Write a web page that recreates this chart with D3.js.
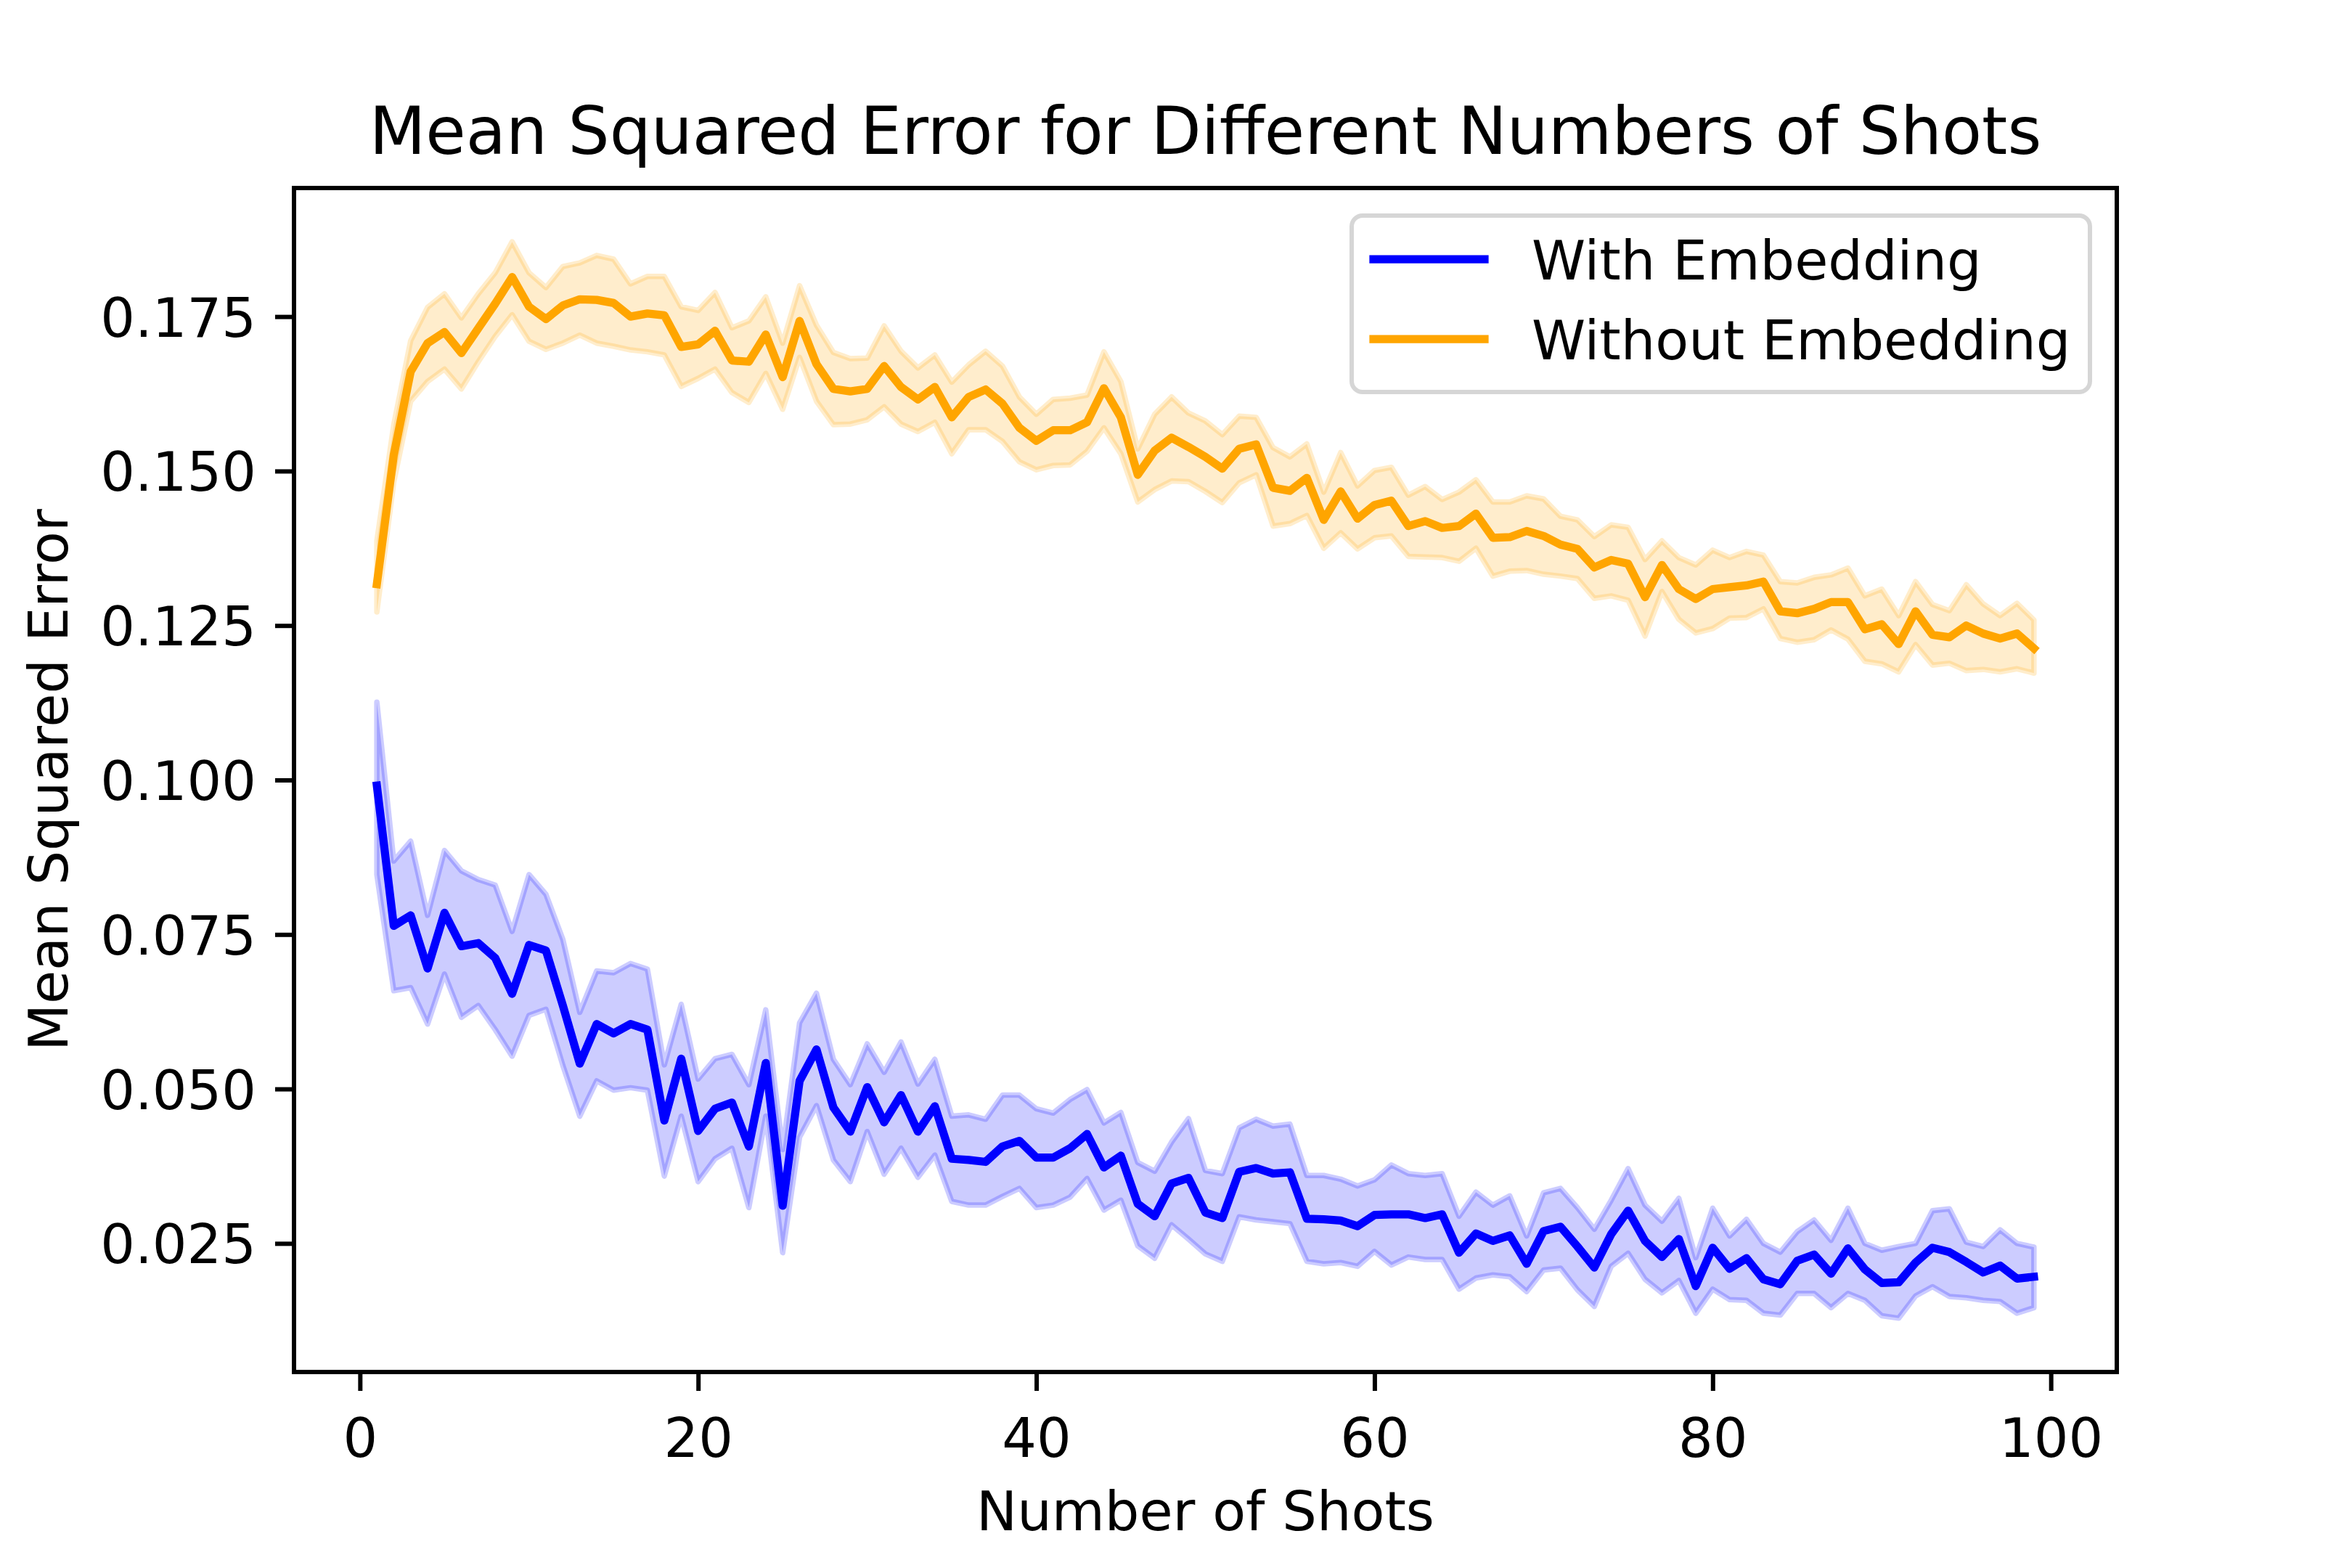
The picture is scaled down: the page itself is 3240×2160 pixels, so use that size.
<!DOCTYPE html>
<html>
<head>
<meta charset="utf-8">
<title>Mean Squared Error for Different Numbers of Shots</title>
<script src="https://cdn.jsdelivr.net/npm/d3@7"></script>
<style>
    body { margin: 0; background: #fff; }
    svg { display: block; }
    text { font-family: "DejaVu Sans", sans-serif; fill: #000; }
</style>
</head>
<body>
<div id="chart"></div>
<script>
"use strict";

// Number of shots (x values)
var shots = [1, 2, 3, 4, 5, 6, 7, 8, 9, 10, 11, 12, 13, 14, 15, 16, 17, 18, 19, 20,
    21, 22, 23, 24, 25, 26, 27, 28, 29, 30, 31, 32, 33, 34, 35, 36, 37, 38, 39, 40,
    41, 42, 43, 44, 45, 46, 47, 48, 49, 50, 51, 52, 53, 54, 55, 56, 57, 58, 59, 60,
    61, 62, 63, 64, 65, 66, 67, 68, 69, 70, 71, 72, 73, 74, 75, 76, 77, 78, 79, 80,
    81, 82, 83, 84, 85, 86, 87, 88, 89, 90, 91, 92, 93, 94, 95, 96, 97, 98, 99];

// With Embedding: mean and band
var withMean = [0.0991, 0.0764, 0.0781, 0.0695, 0.0785, 0.0731, 0.0736, 0.0712, 0.0654, 0.0733,
    0.0724, 0.0635, 0.0541, 0.0605, 0.0590, 0.0605, 0.0596, 0.0449, 0.0549, 0.0432,
    0.0468, 0.0478, 0.0407, 0.0542, 0.0311, 0.0513, 0.0564, 0.0470, 0.0431, 0.0503,
    0.0446, 0.0490, 0.0431, 0.0472, 0.0387, 0.0385, 0.0382, 0.0407, 0.0416, 0.0389,
    0.0389, 0.0404, 0.0427, 0.0373, 0.0392, 0.0314, 0.0294, 0.0347, 0.0356, 0.0300,
    0.0291, 0.0366, 0.0372, 0.0363, 0.0365, 0.0290, 0.0289, 0.0287, 0.0278, 0.0296,
    0.0297, 0.0297, 0.0291, 0.0297, 0.0235, 0.0266, 0.0254, 0.0263, 0.0217, 0.0270,
    0.0277, 0.0245, 0.0211, 0.0265, 0.0303, 0.0254, 0.0228, 0.0257, 0.0181, 0.0243,
    0.0209, 0.0226, 0.0192, 0.0184, 0.0222, 0.0232, 0.0201, 0.0242, 0.0208, 0.0186,
    0.0187, 0.0219, 0.0243, 0.0236, 0.0220, 0.0203, 0.0214, 0.0193, 0.0196];
var withUpper = [0.1126, 0.0869, 0.0901, 0.0781, 0.0886, 0.0853, 0.0839, 0.0830, 0.0755, 0.0847,
    0.0815, 0.0742, 0.0624, 0.0691, 0.0688, 0.0703, 0.0694, 0.0539, 0.0637, 0.0516,
    0.0549, 0.0556, 0.0507, 0.0628, 0.0402, 0.0607, 0.0655, 0.0548, 0.0507, 0.0573,
    0.0527, 0.0576, 0.0508, 0.0548, 0.0456, 0.0458, 0.0451, 0.0490, 0.0490, 0.0468,
    0.0461, 0.0483, 0.0499, 0.0445, 0.0462, 0.0381, 0.0367, 0.0414, 0.0452, 0.0368,
    0.0363, 0.0437, 0.0451, 0.0440, 0.0443, 0.0360, 0.0360, 0.0354, 0.0343, 0.0353,
    0.0377, 0.0363, 0.0360, 0.0363, 0.0294, 0.0333, 0.0312, 0.0327, 0.0262, 0.0332,
    0.0339, 0.0308, 0.0273, 0.0320, 0.0371, 0.0312, 0.0286, 0.0323, 0.0227, 0.0307,
    0.0262, 0.0289, 0.0250, 0.0236, 0.0269, 0.0288, 0.0255, 0.0307, 0.0250, 0.0239,
    0.0245, 0.0250, 0.0303, 0.0306, 0.0252, 0.0245, 0.0272, 0.0250, 0.0244];
var withLower = [0.0847, 0.0659, 0.0664, 0.0605, 0.0686, 0.0616, 0.0635, 0.0596, 0.0553, 0.0619,
    0.0629, 0.0538, 0.0456, 0.0513, 0.0498, 0.0502, 0.0498, 0.0359, 0.0456, 0.0350,
    0.0387, 0.0404, 0.0308, 0.0456, 0.0235, 0.0422, 0.0473, 0.0385, 0.0350, 0.0431,
    0.0362, 0.0404, 0.0357, 0.0393, 0.0318, 0.0312, 0.0312, 0.0326, 0.0339, 0.0308,
    0.0312, 0.0325, 0.0355, 0.0304, 0.0320, 0.0246, 0.0226, 0.0280, 0.0257, 0.0233,
    0.0221, 0.0293, 0.0288, 0.0285, 0.0282, 0.0221, 0.0217, 0.0219, 0.0213, 0.0237,
    0.0215, 0.0228, 0.0224, 0.0224, 0.0176, 0.0194, 0.0199, 0.0196, 0.0172, 0.0207,
    0.0210, 0.0175, 0.0148, 0.0213, 0.0234, 0.0192, 0.0170, 0.0190, 0.0137, 0.0176,
    0.0159, 0.0158, 0.0137, 0.0134, 0.0169, 0.0169, 0.0146, 0.0169, 0.0158, 0.0133,
    0.0129, 0.0165, 0.0180, 0.0164, 0.0162, 0.0158, 0.0156, 0.0137, 0.0146];

// Without Embedding: mean and band
var withoutMean = [0.1317, 0.1526, 0.1661, 0.1707, 0.1725, 0.1691, 0.1731, 0.1771, 0.1814, 0.1766,
    0.1746, 0.1768, 0.1778, 0.1777, 0.1772, 0.1750, 0.1755, 0.1752, 0.1701, 0.1705,
    0.1727, 0.1679, 0.1677, 0.1721, 0.1652, 0.1743, 0.1673, 0.1633, 0.1629, 0.1633,
    0.1670, 0.1636, 0.1616, 0.1636, 0.1587, 0.1620, 0.1632, 0.1609, 0.1570, 0.1549,
    0.1566, 0.1566, 0.1579, 0.1634, 0.1587, 0.1494, 0.1533, 0.1554, 0.1539, 0.1523,
    0.1504, 0.1536, 0.1543, 0.1473, 0.1468, 0.1489, 0.1421, 0.1467, 0.1423, 0.1445,
    0.1452, 0.1411, 0.1419, 0.1408, 0.1411, 0.1431, 0.1392, 0.1393, 0.1403, 0.1395,
    0.1381, 0.1374, 0.1344, 0.1356, 0.1350, 0.1296, 0.1348, 0.1309, 0.1293, 0.1309,
    0.1312, 0.1315, 0.1321, 0.1273, 0.1270, 0.1277, 0.1288, 0.1288, 0.1244, 0.1252,
    0.1220, 0.1273, 0.1235, 0.1231, 0.1250, 0.1237, 0.1229, 0.1237, 0.1213];
var withoutUpper = [0.1387, 0.1575, 0.1711, 0.1765, 0.1787, 0.1748, 0.1787, 0.1821, 0.1871, 0.1821,
    0.1797, 0.1831, 0.1837, 0.1849, 0.1843, 0.1803, 0.1815, 0.1815, 0.1766, 0.1760,
    0.1789, 0.1732, 0.1743, 0.1782, 0.1707, 0.1800, 0.1736, 0.1692, 0.1682, 0.1683,
    0.1735, 0.1694, 0.1667, 0.1688, 0.1644, 0.1672, 0.1694, 0.1670, 0.1620, 0.1592,
    0.1616, 0.1618, 0.1623, 0.1693, 0.1645, 0.1536, 0.1592, 0.1620, 0.1594, 0.1581,
    0.1559, 0.1589, 0.1587, 0.1538, 0.1523, 0.1544, 0.1466, 0.1530, 0.1476, 0.1501,
    0.1506, 0.1461, 0.1475, 0.1454, 0.1466, 0.1486, 0.1450, 0.1450, 0.1460, 0.1455,
    0.1427, 0.1421, 0.1394, 0.1413, 0.1409, 0.1357, 0.1387, 0.1360, 0.1348, 0.1372,
    0.1360, 0.1370, 0.1364, 0.1321, 0.1319, 0.1328, 0.1332, 0.1343, 0.1298, 0.1309,
    0.1266, 0.1321, 0.1284, 0.1274, 0.1316, 0.1285, 0.1266, 0.1286, 0.1259];
var withoutLower = [0.1272, 0.1482, 0.1613, 0.1645, 0.1665, 0.1633, 0.1677, 0.1718, 0.1753, 0.1710,
    0.1697, 0.1707, 0.1720, 0.1707, 0.1702, 0.1696, 0.1693, 0.1688, 0.1637, 0.1650,
    0.1665, 0.1627, 0.1611, 0.1658, 0.1600, 0.1684, 0.1613, 0.1575, 0.1576, 0.1583,
    0.1604, 0.1576, 0.1564, 0.1579, 0.1528, 0.1567, 0.1567, 0.1548, 0.1515, 0.1502,
    0.1509, 0.1510, 0.1532, 0.1570, 0.1528, 0.1450, 0.1470, 0.1484, 0.1483, 0.1467,
    0.1449, 0.1481, 0.1494, 0.1411, 0.1415, 0.1428, 0.1375, 0.1400, 0.1374, 0.1392,
    0.1395, 0.1362, 0.1361, 0.1360, 0.1354, 0.1375, 0.1330, 0.1338, 0.1339, 0.1333,
    0.1330, 0.1326, 0.1294, 0.1298, 0.1291, 0.1233, 0.1305, 0.1260, 0.1238, 0.1245,
    0.1262, 0.1263, 0.1277, 0.1229, 0.1223, 0.1227, 0.1243, 0.1228, 0.1192, 0.1188,
    0.1175, 0.1219, 0.1186, 0.1189, 0.1177, 0.1179, 0.1175, 0.1180, 0.1173];

var xTicks = [0, 20, 40, 60, 80, 100];
var yTicks = [0.025, 0.050, 0.075, 0.100, 0.125, 0.150, 0.175];

var seriesNames = ["With Embedding", "Without Embedding"];
var seriesColors = ["blue", "orange"];

function drawChart() {
    var w = 3240;
    var h = 2160;
    var left = 405, right = 2916, top = 259, bottom = 1890;
    var fontSize = 75;

    var svg = d3.select("#chart")
        .append("svg")
        .attr("width", w)
        .attr("height", h);

    //Domains padded by 5% like matplotlib autoscaling
    var xMin = d3.min(shots), xMax = d3.max(shots);
    var xPad = (xMax - xMin) * 0.05;
    var yMin = d3.min(withLower.concat(withoutLower));
    var yMax = d3.max(withUpper.concat(withoutUpper));
    var yPad = (yMax - yMin) * 0.05;

    var x = d3.scaleLinear()
        .domain([xMin - xPad, xMax + xPad])
        .range([left, right]);

    var y = d3.scaleLinear()
        .domain([yMin - yPad, yMax + yPad])
        .range([bottom, top]);

    var series = [
        { name: seriesNames[0], color: seriesColors[0], mean: withMean, upper: withUpper, lower: withLower },
        { name: seriesNames[1], color: seriesColors[1], mean: withoutMean, upper: withoutUpper, lower: withoutLower }
    ];

    var area = d3.area()
        .x(function (d) { return x(d.s); })
        .y0(function (d) { return y(d.lo); })
        .y1(function (d) { return y(d.hi); });

    var line = d3.line()
        .x(function (d) { return x(d.s); })
        .y(function (d) { return y(d.m); });

    function rows(sr) {
        return shots.map(function (s, i) {
            return { s: s, m: sr.mean[i], hi: sr.upper[i], lo: sr.lower[i] };
        });
    }

    //Bands first, lines on top
    svg.append("g").selectAll("path")
        .data(series)
        .enter()
        .append("path")
        .attr("d", function (d) { return area(rows(d)); })
        .attr("fill", function (d) { return d.color; })
        .attr("fill-opacity", 0.2)
        .attr("stroke", function (d) { return d.color; })
        .attr("stroke-opacity", 0.2)
        .attr("stroke-width", 7.5)
        .attr("stroke-linejoin", "round");

    svg.append("g").selectAll("path")
        .data(series)
        .enter()
        .append("path")
        .attr("d", function (d) { return line(rows(d)); })
        .attr("fill", "none")
        .attr("stroke", function (d) { return d.color; })
        .attr("stroke-width", 11.25)
        .attr("stroke-linejoin", "round")
        .attr("stroke-linecap", "square");

    //Axes
    var xAxis = d3.axisBottom(x)
        .tickValues(xTicks)
        .tickSize(26)
        .tickSizeOuter(0)
        .tickPadding(26)
        .tickFormat(d3.format("d"));

    var yAxis = d3.axisLeft(y)
        .tickValues(yTicks)
        .tickSize(26)
        .tickSizeOuter(0)
        .tickPadding(26)
        .tickFormat(d3.format(".3f"));

    var gx = svg.append("g")
        .attr("transform", "translate(0," + bottom + ")")
        .call(xAxis);
    var gy = svg.append("g")
        .attr("transform", "translate(" + left + ",0)")
        .call(yAxis);

    [gx, gy].forEach(function (g) {
        g.select(".domain").remove();
        g.selectAll(".tick line").attr("stroke", "#000").attr("stroke-width", 6);
        g.selectAll(".tick text")
            .style("font-family", "DejaVu Sans")
            .style("font-size", fontSize + "px")
            .attr("fill", "#000");
    });
    gx.selectAll(".tick text").attr("dy", "0.87em");
    gy.selectAll(".tick text").attr("dy", "0.36em");

    //Frame
    svg.append("rect")
        .attr("x", left)
        .attr("y", top)
        .attr("width", right - left)
        .attr("height", bottom - top)
        .attr("fill", "none")
        .attr("stroke", "#000")
        .attr("stroke-width", 6);

    //Title and axis labels
    svg.append("text")
        .attr("x", (left + right) / 2)
        .attr("y", 212)
        .attr("text-anchor", "middle")
        .style("font-size", "90px")
        .text("Mean Squared Error for Different Numbers of Shots");

    svg.append("text")
        .attr("x", (left + right) / 2)
        .attr("y", 2108)
        .attr("text-anchor", "middle")
        .style("font-size", fontSize + "px")
        .text("Number of Shots");

    svg.append("text")
        .attr("transform", "translate(93," + ((top + bottom) / 2) + ") rotate(-90)")
        .attr("text-anchor", "middle")
        .style("font-size", fontSize + "px")
        .text("Mean Squared Error");

    //Legend
    var lgX = 1862, lgY = 297, lgW = 2879 - 1862, lgH = 540 - 297;
    var legend = svg.append("g");
    legend.append("rect")
        .attr("x", lgX)
        .attr("y", lgY)
        .attr("width", lgW)
        .attr("height", lgH)
        .attr("rx", 15)
        .attr("ry", 15)
        .attr("fill", "#fff")
        .attr("fill-opacity", 0.8)
        .attr("stroke", "#cccccc")
        .attr("stroke-opacity", 0.8)
        .attr("stroke-width", 6);

    var item = legend.selectAll("g.item")
        .data(series)
        .enter()
        .append("g")
        .attr("class", "item")
        .attr("transform", function (d, i) { return "translate(0," + (i * 110) + ")"; });

    item.append("line")
        .attr("x1", 1892)
        .attr("x2", 2045)
        .attr("y1", 357)
        .attr("y2", 357)
        .attr("stroke", function (d) { return d.color; })
        .attr("stroke-width", 11.25)
        .attr("stroke-linecap", "square");

    item.append("text")
        .attr("x", 2110)
        .attr("y", 385)
        .style("font-size", fontSize + "px")
        .text(function (d) { return d.name; });
}

drawChart();
</script>
</body>
</html>
